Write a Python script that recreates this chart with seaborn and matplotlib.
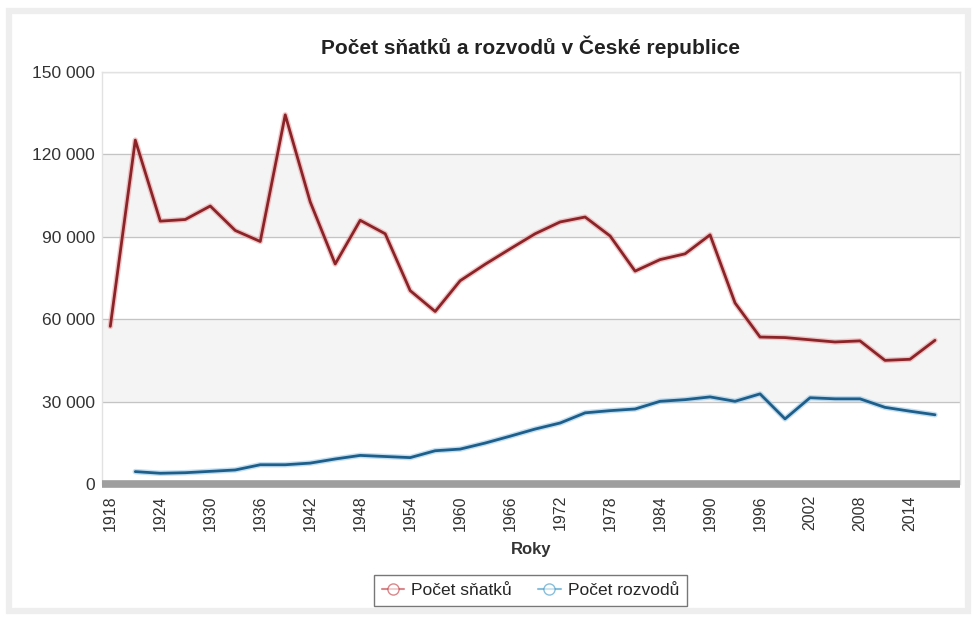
import numpy as np
import pandas as pd
import matplotlib
matplotlib.use("Agg")
import matplotlib.pyplot as plt
import matplotlib.patheffects as pe
from matplotlib.ticker import FuncFormatter
from matplotlib.lines import Line2D
import seaborn as sns

# data (every 3 years)
years = list(range(1918, 2018, 3))
snatky = [57400, 125200, 95700, 96300, 101200, 92300, 88300, 134400, 102700, 80100,
          96000, 91100, 70400, 62800, 74000, 80000, 85600, 91100, 95400, 97200,
          90300, 77500, 81700, 83800, 90700, 65900, 53500, 53300, 52500, 51700,
          52100, 45000, 45400, 52300]
rozvody = [np.nan, 4500, 3900, 4100, 4600, 5100, 7000, 7000, 7600, 9100,
           10400, 10000, 9600, 12100, 12700, 14900, 17400, 20000, 22200, 25900,
           26700, 27300, 30100, 30700, 31700, 30100, 32800, 23700, 31400, 31000,
           31000, 27900, 26500, 25200]
series_names = ["Počet sňatků", "Počet rozvodů"]
xticks = list(range(1918, 2017, 6))
yticks = [0, 30000, 60000, 90000, 120000, 150000]

df = pd.DataFrame({"rok": years, series_names[0]: snatky, series_names[1]: rozvody})
long_df = df.melt(id_vars="rok", var_name="serie", value_name="pocet")

sns.set_style("white")
plt.rcParams['font.family'] = ['Liberation Sans', 'DejaVu Sans']

red = "#8a2428"
blue = "#1d5f8a"
glow = {series_names[0]: "#e9a3a3", series_names[1]: "#9cc8e6"}

fig = plt.figure(figsize=(9.73, 6.17), dpi=100)
fig.patches.append(plt.Rectangle((0.0095, 0.01), 0.985, 0.972, transform=fig.transFigure,
                                 fill=False, edgecolor="#eeeeee", linewidth=4.5, zorder=0))
ax = fig.add_axes([0.1048, 0.2156, 0.8818, 0.6677])

# bands and grid
for lo, hi in [(30000, 60000), (90000, 120000)]:
    ax.axhspan(lo, hi, color="#f4f4f4", zorder=0)
for y in yticks[1:]:
    ax.axhline(y, color="#c4c4c4", linewidth=0.9, zorder=1)

sns.lineplot(data=long_df, x="rok", y="pocet", hue="serie",
             palette=[red, blue], linewidth=2.0, ax=ax, legend=False, zorder=3)
for line, name in zip(ax.get_lines()[-2:], series_names):
    line.set_path_effects([pe.Stroke(linewidth=4.0, foreground=glow[name], alpha=0.6), pe.Normal()])

ax.set_xlim(1917.0, 2020.0)
ax.set_ylim(0, 150000)
ax.set_xticks(xticks)
ax.set_xticklabels([str(x) for x in xticks], rotation=90, fontsize=11.5, color="#333333")
ax.set_yticks(yticks)
ax.yaxis.set_major_formatter(FuncFormatter(lambda v, p: f"{int(v):,}".replace(",", " ")))
ax.tick_params(axis="y", labelsize=12.5, colors="#333333", length=0, pad=5)
ax.tick_params(axis="x", length=0, pad=8)

for s in ["top", "left", "right"]:
    ax.spines[s].set_color("#e2e2e2")
    ax.spines[s].set_linewidth(1)
ax.spines["bottom"].set_color("#9e9e9e")
ax.spines["bottom"].set_linewidth(5.5)
ax.spines["bottom"].set_capstyle("butt")

ax.set_xlabel("Roky", fontsize=12, fontweight="bold", color="#333333", labelpad=8)
ax.set_ylabel("")
fig.text(0.545, 0.924, "Počet sňatků a rozvodů v České republice", ha="center", va="center",
         fontsize=15, fontweight="bold", color="#222222")

handles = [Line2D([], [], color=c, marker="o", markerfacecolor="white", markeredgecolor=c,
                  markersize=8, linewidth=1.5, alpha=0.6) for c in ["#c0393e", "#3b95c4"]]
leg = fig.legend(handles, series_names, loc="center", bbox_to_anchor=(0.545, 0.0435),
                 ncol=2, frameon=True, fancybox=False, fontsize=12.5, handlelength=1.3,
                 columnspacing=1.5, borderpad=0.45, handletextpad=0.4)
leg.get_frame().set_edgecolor("#555555")
leg.get_frame().set_linewidth(1.0)

fig.savefig("out.png", dpi=100)
